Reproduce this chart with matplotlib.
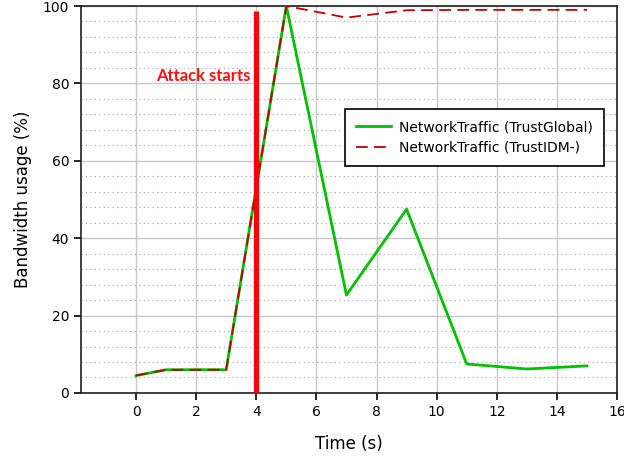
import matplotlib
matplotlib.use("Agg")
import matplotlib.pyplot as plt
from matplotlib.ticker import MultipleLocator

# 数据
time_s = [0, 1, 3, 5, 7, 9, 11, 13, 15]
trust_global = [4.5, 6.0, 6.0, 100.0, 25.3, 47.5, 7.5, 6.2, 7.0]
trust_idm = [4.5, 6.0, 6.0, 100.0, 97.0, 98.9, 99.0, 99.0, 99.0]
attack_time = 4
attack_top = 98.6

x_ticks = [0, 2, 4, 6, 8, 10, 12, 14, 16]
y_ticks = [0, 20, 40, 60, 80, 100]

plt.rcParams['font.family'] = ['DejaVu Sans']

fig = plt.figure(figsize=(6.24, 4.62), dpi=100)
ax = fig.add_axes([0.1298, 0.1494, 0.859, 0.8376])

ax.set_xlim(-1.83, 16)
ax.set_ylim(0, 100)
ax.set_xticks(x_ticks)
ax.set_yticks(y_ticks)
ax.yaxis.set_minor_locator(MultipleLocator(4))

# 网格线
ax.grid(True, which='major', color='#c8c8c8', linewidth=1.0)
ax.grid(True, which='minor', axis='y', color='#a0a0a0', linestyle=(0, (1, 3)), linewidth=0.8)
ax.tick_params(which='minor', length=0)
ax.tick_params(which='major', direction='out', length=5, width=1.2, labelsize=10)
ax.set_axisbelow(True)

for s in ax.spines.values():
    s.set_linewidth(1.2)
    s.set_color('#202020')

ax.plot(time_s, trust_global, color='#00c000', linewidth=2, label='NetworkTraffic (TrustGlobal)', zorder=3)
ax.plot(time_s, trust_idm, color='#c00000', linewidth=1.3, linestyle=(0, (6.5, 3.5)),
        label='NetworkTraffic (TrustIDM-)', zorder=4)

# 攻击开始标记
ax.plot([attack_time, attack_time], [0, attack_top], color='#ff0000', linewidth=3.8, zorder=5,
        solid_capstyle='butt')
ax.text(attack_time - 0.2, 82, 'Attack starts', color='#ff1010', fontsize=12, fontweight='bold',
        family=['Lato', 'DejaVu Sans'], ha='right', va='center')

leg = ax.legend(loc='upper right', bbox_to_anchor=(0.976, 0.734), borderaxespad=0, fontsize=10,
                frameon=True, fancybox=False, edgecolor='black', framealpha=1, borderpad=0.8,
                handlelength=2.5, handletextpad=0.6)
leg.get_frame().set_linewidth(1.2)

ax.set_xlabel('Time (s)', fontsize=12, labelpad=12)
ax.set_ylabel('Bandwidth usage (%)', fontsize=12, labelpad=8)

fig.savefig('out.png', dpi=100)
